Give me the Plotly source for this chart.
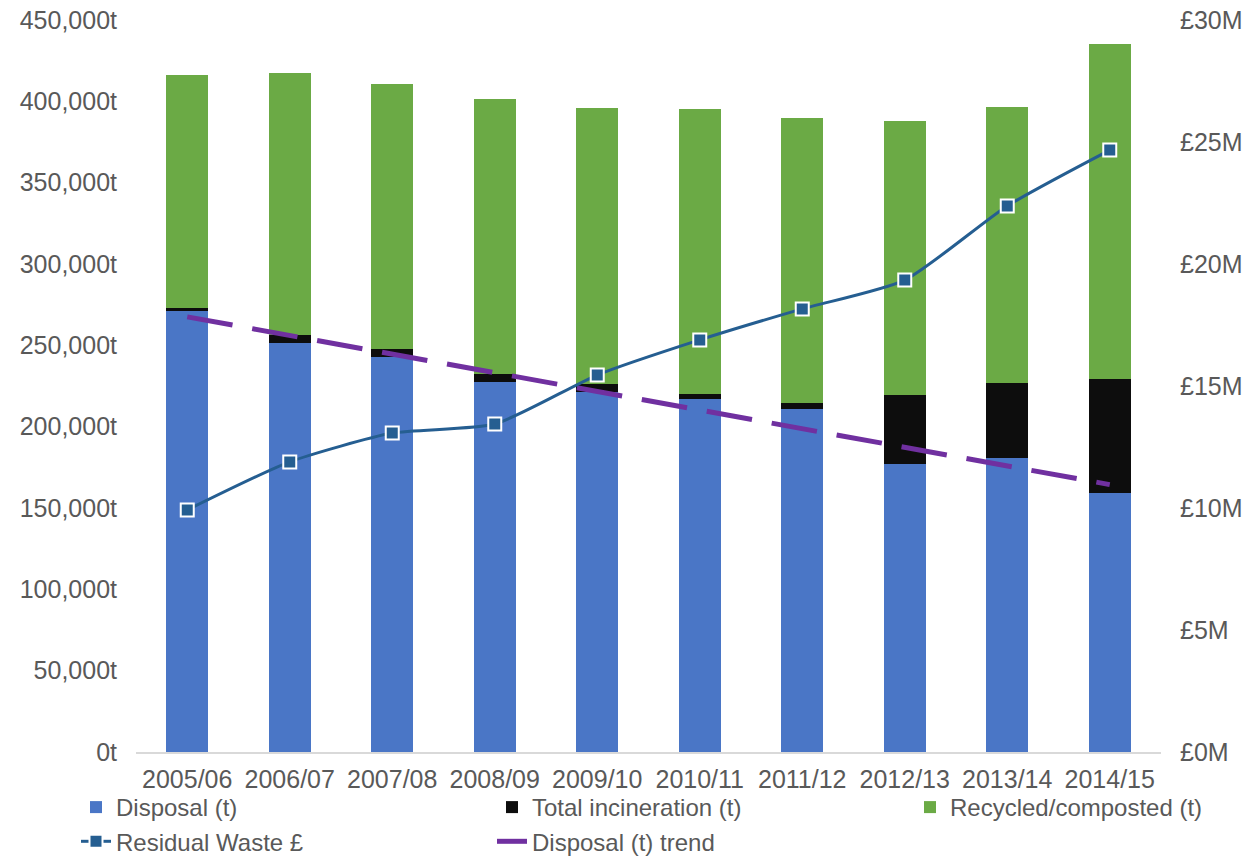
import numpy as np
import plotly.graph_objects as go

years = ["2005/06", "2006/07", "2007/08", "2008/09", "2009/10",
         "2010/11", "2011/12", "2012/13", "2013/14", "2014/15"]
disposal_t = [271700, 251400, 242800, 227500, 221300, 217000, 210900, 177000, 180700, 159200]
incineration_t = [1000, 4900, 4900, 4900, 4900, 3100, 3700, 42400, 46100, 70100]
recycled_t = [143500, 161100, 162900, 169000, 169700, 175200, 175200, 168500, 169700, 205900]
residual_waste_m = [9.92, 11.89, 13.07, 13.44, 15.45, 16.89, 18.16, 19.34, 22.38, 24.67]

# Linear trend of disposal tonnage (as in the spreadsheet trendline)
idx = np.arange(len(years))
slope, intercept = np.polyfit(idx, disposal_t, 1)
disposal_trend = list(slope * idx + intercept)

FONT = "Liberation Sans, Arial, sans-serif"
GREY = "#595959"

fig = go.Figure()
fig.add_trace(go.Bar(x=years, y=disposal_t, name="Disposal (t)",
                     marker=dict(color="#4A76C6", line=dict(width=0)), legend="legend"))
fig.add_trace(go.Bar(x=years, y=incineration_t, name="Total incineration (t)",
                     marker=dict(color="#0D0D0D", line=dict(width=0)), legend="legend2"))
fig.add_trace(go.Bar(x=years, y=recycled_t, name="Recycled/composted (t)",
                     marker=dict(color="#6BAA45", line=dict(width=0)), legend="legend3"))
fig.add_trace(go.Scatter(x=years, y=residual_waste_m, name="Residual Waste £", yaxis="y2",
                         mode="lines+markers",
                         line=dict(color="#255E91", width=3, shape="spline", smoothing=0.6),
                         marker=dict(symbol="square", size=13, color="#255E91",
                                     line=dict(color="white", width=2)),
                         legend="legend"))
fig.add_trace(go.Scatter(x=years, y=disposal_trend, name="Disposal (t) trend",
                         mode="lines", line=dict(color="#7030A0", width=5, dash="46px,20px"),
                         legend="legend2"))

leg_common = dict(orientation="v", xref="container", yref="container",
                  yanchor="top", xanchor="left", bgcolor="rgba(0,0,0,0)",
                  font=dict(family=FONT, size=24, color=GREY), tracegroupgap=0,
                  traceorder="normal", itemclick=False)

fig.update_layout(
    width=1258, height=858,
    barmode="stack", bargap=0.59,
    plot_bgcolor="white", paper_bgcolor="white",
    margin=dict(l=136, r=97, t=20, b=106, autoexpand=False),
    font=dict(family=FONT, size=25, color=GREY),
    xaxis=dict(range=[-0.5, len(years) - 0.5], showgrid=False, showline=True,
               linecolor="#D9D9D9", linewidth=1.5,
               ticks="", tickfont=dict(size=25, color=GREY), ticklabelstandoff=4,
               tickangle=0, automargin=False),
    yaxis=dict(range=[0, 450000], dtick=50000, tickformat=",.0f", ticksuffix="t",
               showgrid=False, zeroline=False, ticks="", showline=False, automargin=False,
               tickfont=dict(size=25, color=GREY), ticklabelstandoff=18),
    yaxis2=dict(range=[0, 30], dtick=5, tickprefix="£", ticksuffix="M", overlaying="y",
                side="right", showgrid=False, zeroline=False, ticks="", showline=False,
                automargin=False, tickfont=dict(size=25, color=GREY), ticklabelstandoff=18),
    legend=dict(x=76 / 1258, y=1 - 785 / 858, **leg_common),
    legend2=dict(x=492 / 1258, y=1 - 785 / 858, **leg_common),
    legend3=dict(x=910 / 1258, y=1 - 785 / 858, **leg_common),
    showlegend=True,
)

fig.write_html("out.html")
